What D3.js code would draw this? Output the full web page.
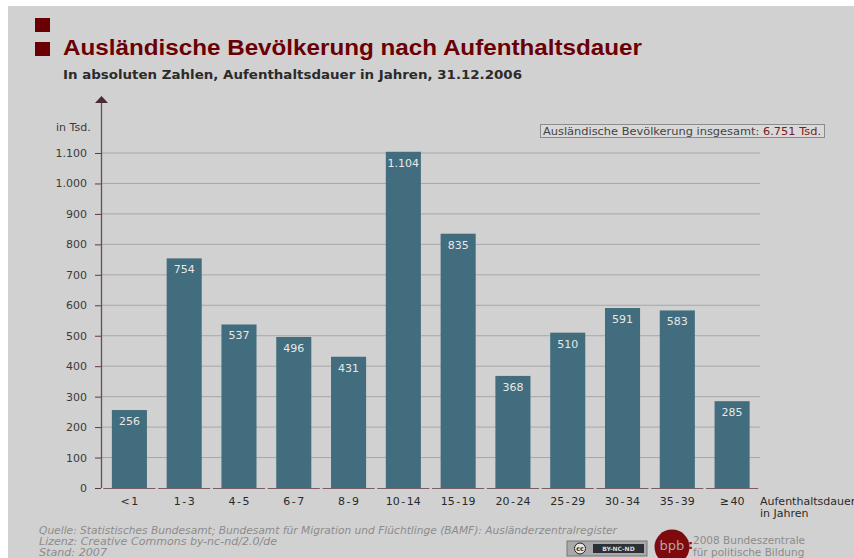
<!DOCTYPE html>
<html>
<head>
<meta charset="utf-8">
<script src="https://cdn.jsdelivr.net/npm/d3@7"></script>
<style>
  html, body { margin: 0; padding: 0; background: #fff; }
  svg { display: block; font-family: "DejaVu Sans", sans-serif; }
</style>
</head>
<body>
<div id="chart"></div>
<script>
const categories = ["<1", "1-3", "4-5", "6-7", "8-9", "10-14", "15-19", "20-24", "25-29", "30-34", "35-39", "≥ 40"];
const values = [256, 754, 537, 496, 431, 1104, 835, 368, 510, 591, 583, 285];
const valueLabels = ["256", "754", "537", "496", "431", "1.104", "835", "368", "510", "591", "583", "285"];
const yTicks = [0, 100, 200, 300, 400, 500, 600, 700, 800, 900, 1000, 1100];
const footer = [
    "Quelle: Statistisches Bundesamt; Bundesamt für Migration und Flüchtlinge (BAMF): Ausländerzentralregister",
    "Lizenz: Creative Commons by-nc-nd/2.0/de",
    "Stand: 2007"
];
const footerWidths = [578, 238, 68];

const width = 854;
const height = 558;
const darkRed = "#6b0004";
const barColor = "#416d7e";

const svg = d3.select("#chart").append("svg")
    .attr("width", width)
    .attr("height", height);

svg.append("rect")
    .attr("x", 8).attr("y", 6)
    .attr("width", width - 8).attr("height", height - 6)
    .attr("fill", "#d1d1d1");

const x = d3.scaleBand().domain(categories).range([102, 759.5]).paddingInner(0.36).paddingOuter(0.18);
const y = d3.scaleLinear().domain([0, 1100]).range([488, 153]);

// Raster
svg.append("g").selectAll("line")
    .data(yTicks.filter(d => d > 0))
    .enter().append("line")
    .attr("x1", 101).attr("x2", 760)
    .attr("y1", d => y(d)).attr("y2", d => y(d))
    .attr("stroke", "#a8a8a8");

// Balken
svg.append("g").selectAll("rect")
    .data(values)
    .enter().append("rect")
    .attr("x", (d, i) => x(categories[i]))
    .attr("y", d => y(d))
    .attr("width", x.bandwidth())
    .attr("height", d => y(0) - y(d))
    .attr("fill", barColor);

svg.append("g").selectAll("text")
    .data(valueLabels)
    .enter().append("text")
    .attr("x", (d, i) => x(categories[i]) + x.bandwidth() / 2)
    .attr("y", (d, i) => y(values[i]) + 15)
    .attr("text-anchor", "middle")
    .attr("font-size", 11)
    .attr("fill", "#e8e8e8")
    .text(d => d);

// y-Achse
const yAxis = d3.axisLeft(y)
    .tickValues(yTicks)
    .tickSize(7)
    .tickPadding(4)
    .tickFormat(d => d3.format(",")(d).replace(",", "."));
const yG = svg.append("g").attr("transform", "translate(98,0)").call(yAxis);
yG.select(".domain").remove();
yG.selectAll("line").attr("stroke", "#5d3a46").attr("x2", -6).attr("transform", "translate(3,0)");
yG.selectAll("text")
    .attr("fill", "#3a3a3a")
    .style("font-family", "DejaVu Sans")
    .style("font-size", "11px");

svg.append("line")
    .attr("x1", 101.5).attr("x2", 101.5)
    .attr("y1", 100).attr("y2", 488)
    .attr("stroke", "#6b4a55")
    .attr("stroke-width", 1.3);
svg.append("path")
    .attr("d", d3.line()([[95, 103], [101.5, 96], [108, 103]]))
    .attr("fill", "#4a2a38");

svg.append("text")
    .attr("x", 56).attr("y", 131)
    .attr("font-size", 11).attr("fill", "#3a3a3a")
    .text("in Tsd.");

// x-Achse: Segmente je Kategorie
svg.append("g").selectAll("line")
    .data(categories)
    .enter().append("line")
    .attr("x1", d => x(d) - 8.5)
    .attr("x2", d => x(d) + x.bandwidth() + 8.5)
    .attr("y1", 488.5).attr("y2", 488.5)
    .attr("stroke", "#7a5f68");

const xAxis = d3.axisBottom(x).tickSize(0).tickPadding(0);
const xG = svg.append("g").attr("transform", "translate(0,504)").call(xAxis);
xG.select(".domain").remove();
xG.selectAll("text")
    .attr("fill", "#2a2a2a")
    .style("font-family", "DejaVu Sans")
    .style("font-size", "11px")
    .attr("dy", "0.35em")
    .text(d => d.replace("-", " - ").replace("<", "< "))
    .attr("y", -3)
    .style("word-spacing", "-2px");

svg.append("text").attr("x", 760).attr("y", 505)
    .attr("font-size", 11).attr("fill", "#2a2a2a").text("Aufenthaltsdauer");
svg.append("text").attr("x", 760).attr("y", 517)
    .attr("font-size", 11).attr("fill", "#2a2a2a").text("in Jahren");

// Titel
svg.append("g").selectAll("rect")
    .data([18, 42])
    .enter().append("rect")
    .attr("x", 35).attr("y", d => d)
    .attr("width", 15).attr("height", 14)
    .attr("fill", darkRed);

svg.append("text")
    .attr("x", 63).attr("y", 55)
    .style("font-family", "Liberation Sans")
    .attr("font-weight", "bold")
    .attr("font-size", 22.5)
    .attr("fill", darkRed)
    .attr("textLength", 579)
    .attr("lengthAdjust", "spacingAndGlyphs")
    .text("Ausländische Bevölkerung nach Aufenthaltsdauer");

svg.append("text")
    .attr("x", 63).attr("y", 79)
    .attr("font-weight", "bold")
    .attr("font-size", 11.5)
    .attr("fill", "#2b2b2b")
    .attr("textLength", 459)
    .attr("lengthAdjust", "spacingAndGlyphs")
    .text("In absoluten Zahlen, Aufenthaltsdauer in Jahren, 31.12.2006");

// Gesamtbox
svg.append("rect")
    .attr("x", 540.5).attr("y", 124.5)
    .attr("width", 284).attr("height", 13)
    .attr("fill", "#d9d9d9")
    .attr("stroke", "#8c8c8c");
const total = svg.append("text")
    .attr("x", 543).attr("y", 135)
    .attr("font-size", 10.5)
    .attr("fill", "#444")
    .attr("textLength", 278)
    .attr("lengthAdjust", "spacingAndGlyphs");
total.append("tspan").text("Ausländische Bevölkerung insgesamt: ");
total.append("tspan").attr("fill", "#7a1a22").text("6.751 Tsd.");

// Fußzeile
svg.append("g").selectAll("text")
    .data(footer)
    .enter().append("text")
    .attr("x", 39)
    .attr("y", (d, i) => 534 + i * 11)
    .attr("font-size", 10)
    .attr("font-style", "italic")
    .attr("fill", "#8c8c8c")
    .attr("textLength", (d, i) => footerWidths[i])
    .attr("lengthAdjust", "spacingAndGlyphs")
    .text(d => d);

// CC-Badge
const cc = svg.append("g").attr("transform", "translate(567,541)");
cc.append("rect").attr("width", 80).attr("height", 15).attr("fill", "#a9a9a9").attr("stroke", "#777");
cc.append("rect").attr("x", 26).attr("y", 3).attr("width", 51).attr("height", 9).attr("fill", "#2c3136");
cc.append("circle").attr("cx", 13).attr("cy", 7.5).attr("r", 5.5).attr("fill", "#e4e4e4").attr("stroke", "#222");
cc.append("text").attr("x", 13).attr("y", 10).attr("text-anchor", "middle")
    .attr("font-size", 6.5).attr("font-weight", "bold").attr("fill", "#222").text("cc");
cc.append("text").attr("x", 51.5).attr("y", 10).attr("text-anchor", "middle")
    .attr("font-size", 6).attr("font-weight", "bold").attr("fill", "#ddd").text("BY-NC-ND");

// bpb-Logo
svg.append("circle").attr("cx", 672).attr("cy", 547).attr("r", 17.5).attr("fill", "#7d0a0c");
svg.append("text").attr("x", 672).attr("y", 550).attr("text-anchor", "middle")
    .attr("font-size", 13).attr("fill", "#b9a3a3").text("bpb");
svg.append("text").attr("x", 688).attr("y", 549)
    .attr("font-size", 13).attr("font-weight", "bold").attr("fill", "#7d0a0c").text(":");
svg.append("text").attr("x", 693).attr("y", 544)
    .attr("font-size", 10.5).attr("fill", "#8c8c8c").text("2008 Bundeszentrale");
svg.append("text").attr("x", 693).attr("y", 556)
    .attr("font-size", 10.5).attr("fill", "#8c8c8c").text("für politische Bildung");
</script>
</body>
</html>
